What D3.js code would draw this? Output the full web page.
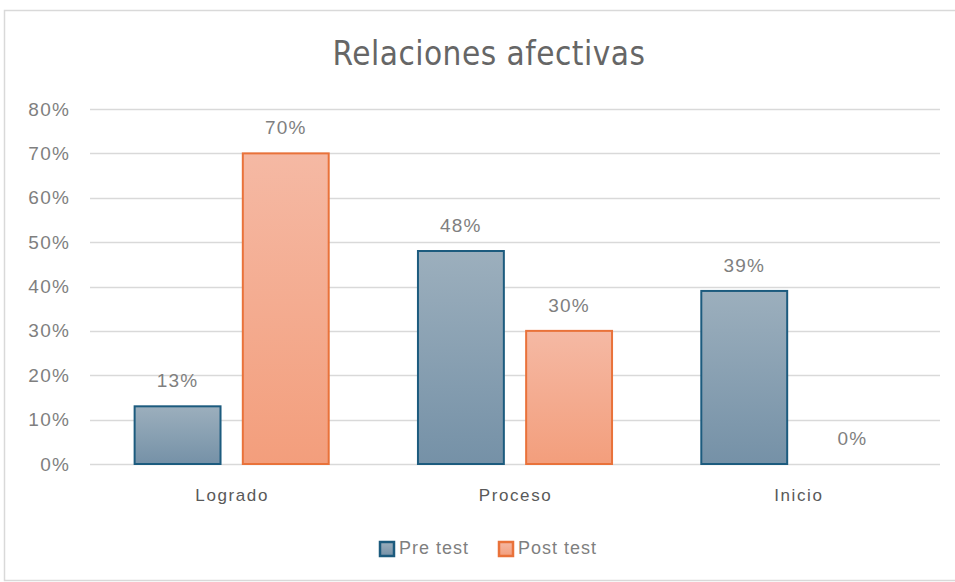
<!DOCTYPE html>
<html>
<head>
<meta charset="utf-8">
<script src="https://cdn.jsdelivr.net/npm/d3@7"></script>
<style>
  body { margin: 0; background: #fff; }
  svg { display: block; }
</style>
</head>
<body>
<div id="chart"></div>
<script>
// Data
const categories = ["Logrado", "Proceso", "Inicio"];
const seriesNames = ["Pre test", "Post test"];
const preTest = [0.13, 0.48, 0.39];
const postTest = [0.70, 0.30, 0.00];
const yTicks = [0, 0.1, 0.2, 0.3, 0.4, 0.5, 0.6, 0.7, 0.8];

const width = 955, height = 582;
const margin = {top: 109, right: 15, bottom: 118, left: 90};
const FONT = "'Liberation Sans', Arial, sans-serif";

const svg = d3.select("#chart").append("svg")
    .attr("width", width)
    .attr("height", height);

// Gradients for the bars
const defs = svg.append("defs");
function gradient(id, top, bottom) {
    const g = defs.append("linearGradient")
        .attr("id", id)
        .attr("x1", 0).attr("y1", 0).attr("x2", 0).attr("y2", 1);
    g.append("stop").attr("offset", "0%").attr("stop-color", top);
    g.append("stop").attr("offset", "100%").attr("stop-color", bottom);
}
gradient("gradPre", "#9cafbd", "#7591a7");
gradient("gradPost", "#f5b9a4", "#f39e7c");

const colors = [
    {fill: "url(#gradPre)", stroke: "#1c5b7e"},
    {fill: "url(#gradPost)", stroke: "#e9723a"}
];

// Chart border
svg.append("rect")
    .attr("x", 4.5).attr("y", 10.5)
    .attr("width", 955).attr("height", 570)
    .attr("fill", "none")
    .attr("stroke", "#d9d9d9")
    .attr("stroke-width", 1.5);

const plotW = width - margin.left - margin.right;
const plotH = height - margin.top - margin.bottom;

const g = svg.append("g")
    .attr("transform", `translate(${margin.left},${margin.top})`);

// one band per category, bars take ~69% of it
const x0 = d3.scaleBand()
    .domain(categories)
    .range([0, plotW]);

const groupW = x0.bandwidth() * 0.685;
const x1 = d3.scaleBand()
    .domain(seriesNames)
    .range([(x0.bandwidth() - groupW) / 2, (x0.bandwidth() + groupW) / 2])
    .paddingInner(0.206);

const y = d3.scaleLinear()
    .domain([0, 0.8])
    .range([plotH, 0]);

// Gridlines
g.selectAll("line.grid")
    .data(yTicks)
    .enter().append("line")
    .attr("class", "grid")
    .attr("x1", 0).attr("x2", plotW)
    .attr("y1", d => Math.round(y(d)) + 0.5)
    .attr("y2", d => Math.round(y(d)) + 0.5)
    .attr("stroke", "#d9d9d9")
    .attr("stroke-width", 1.5);

// Y axis labels
const yAxis = g.append("g")
    .call(d3.axisLeft(y).tickValues(yTicks).tickFormat(d3.format(".0%")).tickSize(0).tickPadding(20));
yAxis.select(".domain").remove();
yAxis.selectAll("text")
    .attr("fill", "#7f7f7f")
    .style("font-family", FONT)
    .style("font-size", "19px")
    .style("letter-spacing", "1.2px");

// X axis labels
const xAxis = g.append("g")
    .attr("transform", `translate(0,${plotH})`)
    .call(d3.axisBottom(d3.scalePoint().domain(categories).range([0, plotW]).padding(0.5)).tickSize(0).tickPadding(25));
xAxis.select(".domain").remove();
xAxis.selectAll("text")
    .attr("fill", "#595959")
    .style("font-family", FONT)
    .style("font-size", "17px")
    .style("letter-spacing", "1.6px");

// Bars
const rows = categories.map((c, i) => ({
    category: c,
    values: [preTest[i], postTest[i]]
}));

const groups = g.selectAll("g.cat")
    .data(rows)
    .enter().append("g")
    .attr("class", "cat")
    .attr("transform", d => `translate(${x0(d.category)},0)`);

groups.selectAll("rect")
    .data(d => d.values.map((v, j) => ({series: seriesNames[j], value: v, j})))
    .enter().append("rect")
    .filter(d => d.value > 0)
    .attr("x", d => x1(d.series))
    .attr("y", d => y(d.value))
    .attr("width", x1.bandwidth())
    .attr("height", d => plotH - y(d.value))
    .attr("fill", d => colors[d.j].fill)
    .attr("stroke", d => colors[d.j].stroke)
    .attr("stroke-width", 2);

groups.selectAll("text.val")
    .data(d => d.values.map((v, j) => ({series: seriesNames[j], value: v})))
    .enter().append("text")
    .attr("class", "val")
    .attr("x", d => x1(d.series) + x1.bandwidth() / 2)
    .attr("y", d => y(d.value) - 24)
    .attr("text-anchor", "middle")
    .attr("dominant-baseline", "middle")
    .attr("fill", "#7f7f7f")
    .style("font-family", FONT)
    .style("font-size", "19px")
    .style("letter-spacing", "1.2px")
    .text(d => d3.format(".0%")(d.value));

// Title
svg.append("text")
    .attr("x", 489)
    .attr("y", 55)
    .attr("text-anchor", "middle")
    .attr("dominant-baseline", "middle")
    .attr("fill", "#666666")
    .style("font-family", "'Liberation Sans Narrow', 'DejaVu Sans Condensed', sans-serif")
    .style("font-size", "33px")
    .style("letter-spacing", "0.5px")
    .text("Relaciones afectivas");

// Legend
const legendX = [380, 499];
const legend = svg.append("g");
seriesNames.forEach((name, i) => {
    const lg = legend.append("g").attr("transform", `translate(${legendX[i]},549)`);
    lg.append("rect")
        .attr("x", 0).attr("y", -7)
        .attr("width", 14).attr("height", 14)
        .attr("fill", colors[i].fill)
        .attr("stroke", colors[i].stroke)
        .attr("stroke-width", 2.5);
    lg.append("text")
        .attr("x", 19).attr("y", 0)
        .attr("dominant-baseline", "middle")
        .attr("fill", "#7f7f7f")
        .style("font-family", FONT)
        .style("font-size", "18px")
        .style("letter-spacing", "1px")
        .text(name);
});
</script>
</body>
</html>
